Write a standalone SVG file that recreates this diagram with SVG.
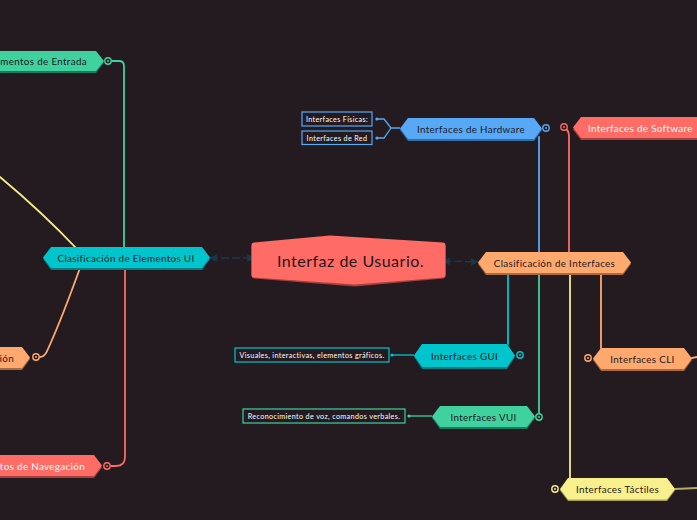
<svg xmlns="http://www.w3.org/2000/svg" width="697" height="520" viewBox="0 0 697 520">
<defs>
<style>
.lbl{font-family:Lato,"Noto Sans",sans-serif;font-size:9.8px;letter-spacing:0.35px;text-anchor:middle;dominant-baseline:central;fill:#1e181c}
.wl{fill:#ffffff}
.sm{font-family:Lato,"Noto Sans",sans-serif;font-size:7.2px;letter-spacing:0.35px;text-anchor:middle;dominant-baseline:central;fill:#ffffff}
.ln{fill:none;stroke-width:1.8;stroke-linecap:round}
.ring{fill:#241b20;stroke-width:1.4}
</style>
<marker id="ah" viewBox="0 0 10 10" refX="9" refY="5" markerWidth="5" markerHeight="5" orient="auto-start-reverse"><path d="M0,0 L10,5 L0,10 z" fill="#173a4a"/></marker>
</defs>
<rect width="697" height="520" fill="#241b20"/>
<g id="connectors">
<path class="ln" stroke="#3fd29f" d="M112,61 L119,61 Q124,61 124,66 L124,247"/>
<path class="ln" stroke="#f6ec86" d="M0,177 Q42,212 78,250"/>
<path class="ln" stroke="#ffa96f" d="M80,268 Q62,318 48,349 Q45,357 40,357"/>
<path class="ln" stroke="#ff6b65" d="M125,268 L125,457 Q125,466 116,466 L111,466"/>
<path d="M210,258 L254,258" stroke="#173a4a" stroke-width="1.5" stroke-dasharray="8 3" fill="none" marker-start="url(#ah)" marker-end="url(#ah)"/>
<path d="M443,261 L478,262" stroke="#173a4a" stroke-width="1.5" stroke-dasharray="8 3" fill="none" marker-start="url(#ah)" marker-end="url(#ah)"/>
<path class="ln" stroke="#58a9f5" d="M539,137 L539,252"/>
<path class="ln" stroke="#ff6b65" d="M567,130 Q569,132 569,137 L569,252"/>
<path class="ln" stroke="#00c5cc" d="M508,273 L508,344"/>
<path class="ln" stroke="#3fd29f" d="M539,273 L539,413"/>
<path class="ln" stroke="#f6ec86" d="M570,273 L570,478"/>
<path class="ln" stroke="#ffa96f" d="M601,273 L601,348"/>
<path class="ln" stroke="#ffa96f" d="M692,358 L697,357"/>
<path class="ln" stroke="#b6ad68" d="M675,489 L697,488"/>
<path fill="none" stroke="#58a9f5" stroke-width="1.3" d="M400,128 L391,128 L384,119 L377,119 M391,128 L384,138 L377,138"/>
<path fill="none" stroke="#00c5cc" stroke-width="1.3" d="M414,355 L392,355"/>
<path fill="none" stroke="#3fd29f" stroke-width="1.3" d="M432,416 L409,416"/>
<circle cx="377" cy="119" r="1.6" fill="#58a9f5"/>
<circle cx="377" cy="138" r="1.6" fill="#58a9f5"/>
<circle cx="392" cy="355" r="1.6" fill="#00c5cc"/>
<circle cx="409" cy="416" r="1.6" fill="#3fd29f"/>
<g>
<circle class="ring" cx="108" cy="61" r="3.2" stroke="#3fd29f"/><circle cx="108" cy="61" r="1" fill="#3fd29f"/>
<circle class="ring" cx="36" cy="357" r="3.2" stroke="#ffa96f"/><circle cx="36" cy="357" r="1" fill="#ffa96f"/>
<circle class="ring" cx="107" cy="466" r="3.2" stroke="#ff6b65"/><circle cx="107" cy="466" r="1" fill="#ff6b65"/>
<circle class="ring" cx="546" cy="128" r="3.2" stroke="#58a9f5"/><circle cx="546" cy="128" r="1" fill="#58a9f5"/>
<circle class="ring" cx="564" cy="127" r="3.2" stroke="#ff6b65"/><circle cx="564" cy="127" r="1" fill="#ff6b65"/>
<circle class="ring" cx="520" cy="355" r="3.2" stroke="#00c5cc"/><circle cx="520" cy="355" r="1" fill="#00c5cc"/>
<circle class="ring" cx="539" cy="417" r="3.2" stroke="#3fd29f"/><circle cx="539" cy="417" r="1" fill="#3fd29f"/>
<circle class="ring" cx="588" cy="358" r="3.2" stroke="#ffa96f"/><circle cx="588" cy="358" r="1" fill="#ffa96f"/>
<circle class="ring" cx="555" cy="489" r="3.2" stroke="#f6ec86"/><circle cx="555" cy="489" r="1" fill="#f6ec86"/>
</g>
</g>
<g id="central">
<polygon points="254,246 330,239 443,246 443,276 355,284 254,276" fill="#a8413d" stroke="#a8413d" stroke-width="5" stroke-linejoin="round"/>
<polygon points="254,245 330,238 443,245 443,275 355,282 254,275" fill="#ff6b65" stroke="#ff6b65" stroke-width="5" stroke-linejoin="round"/>
<text class="lbl" x="350.5" y="260" style="font-size:16px;letter-spacing:0.5px">Interfaz de Usuario.</text>
</g>
<g id="elementos-entrada">
<polygon points="-10,53 96,53 104,62.5 96,73 -10,73" fill="#1f7a5d"/>
<polygon points="-10,51 96,51 104,61 96,71 -10,71" fill="#3fd29f"/>
<text class="lbl" x="87" y="61" style="text-anchor:end">ementos de Entrada</text>
</g>
<g id="elementos-ui">
<polygon points="43,259 51,249 202,249 210,259 202,270 51,270" fill="#007b80"/>
<polygon points="43,257.5 51,247 202,247 210,257.5 202,268 51,268" fill="#00c5cc"/>
<text class="lbl" x="126" y="257.5">Clasificación de Elementos UI</text>
</g>
<g id="elementos-cion">
<polygon points="-10,349 22,349 30,359 22,370 -10,370" fill="#a86a42"/>
<polygon points="-10,347 22,347 30,357.5 22,368 -10,368" fill="#ffa96f"/>
<text class="lbl" x="14" y="357.5" style="text-anchor:end">ción</text>
</g>
<g id="elementos-navegacion">
<polygon points="-10,457 94,457 102,467.5 94,478 -10,478" fill="#a8413d"/>
<polygon points="-10,455 94,455 102,465.5 94,476 -10,476" fill="#ff6b65"/>
<text class="lbl wl" x="85" y="465.5" style="text-anchor:end">ntos de Navegación</text>
</g>
<g id="clasificacion-interfaces">
<polygon points="478,264 486,254 623,254 631,264 623,275 486,275" fill="#a86a42"/>
<polygon points="478,262.5 486,252 623,252 631,262.5 623,273 486,273" fill="#ffa96f"/>
<text class="lbl" x="554.5" y="262.5">Clasificación de Interfaces</text>
</g>
<g id="interfaces-hardware">
<polygon points="400,130 408,120 534,120 542,130 534,141 408,141" fill="#356ea3"/>
<polygon points="400,128.5 408,118 534,118 542,128.5 534,139 408,139" fill="#58a9f5"/>
<text class="lbl" x="471" y="128.5">Interfaces de Hardware</text>
</g>
<g id="interfaces-fisicas">
<rect x="302" y="112" width="70" height="14" fill="#241b20" stroke="#58a9f5" stroke-width="1.2"/>
<text class="sm" x="337" y="119">Interfaces Físicas:</text>
</g>
<g id="interfaces-red">
<rect x="302" y="131" width="70" height="13.5" fill="#241b20" stroke="#58a9f5" stroke-width="1.2"/>
<text class="sm" x="337" y="138">Interfaces de Red</text>
</g>
<g id="interfaces-software">
<polygon points="573,129.5 581,119 710,119 710,140 581,140" fill="#a8413d"/>
<polygon points="573,127.5 581,117 710,117 710,138 581,138" fill="#ff6b65"/>
<text class="lbl wl" x="588" y="127.5" style="text-anchor:start">Interfaces de Software</text>
</g>
<g id="interfaces-gui">
<polygon points="414,357 422,346 507,346 515,357 507,369 422,369" fill="#007b80"/>
<polygon points="414,355.5 422,344 507,344 515,355.5 507,367 422,367" fill="#00c5cc"/>
<text class="lbl" x="464.5" y="355.5">Interfaces GUI</text>
</g>
<g id="gui-desc">
<rect x="235" y="348" width="154" height="14" fill="#241b20" stroke="#00c5cc" stroke-width="1.2"/>
<text class="sm" x="312" y="355">Visuales, interactivas, elementos gráficos.</text>
</g>
<g id="interfaces-vui">
<polygon points="432,418 440,408 527,408 535,418 527,429 440,429" fill="#1f7a5d"/>
<polygon points="432,416.5 440,406 527,406 535,416.5 527,427 440,427" fill="#3fd29f"/>
<text class="lbl" x="483.5" y="416.5">Interfaces VUI</text>
</g>
<g id="vui-desc">
<rect x="243" y="409" width="162" height="14" fill="#241b20" stroke="#3fd29f" stroke-width="1.2"/>
<text class="sm" x="324" y="416">Reconocimiento de voz, comandos verbales.</text>
</g>
<g id="interfaces-cli">
<polygon points="593,360 601,350 684,350 692,360 684,371 601,371" fill="#a86a42"/>
<polygon points="593,358.5 601,348 684,348 692,358.5 684,369 601,369" fill="#ffa96f"/>
<text class="lbl" x="642.5" y="358.5">Interfaces CLI</text>
</g>
<g id="interfaces-tactiles">
<polygon points="560,490.5 568,480 667,480 675,490.5 667,501 568,501" fill="#a39d58"/>
<polygon points="560,489 568,478 667,478 675,489 667,499.5 568,499.5" fill="#f8f08c"/>
<text class="lbl" x="617.5" y="489">Interfaces Táctiles</text>
</g>
</svg>
